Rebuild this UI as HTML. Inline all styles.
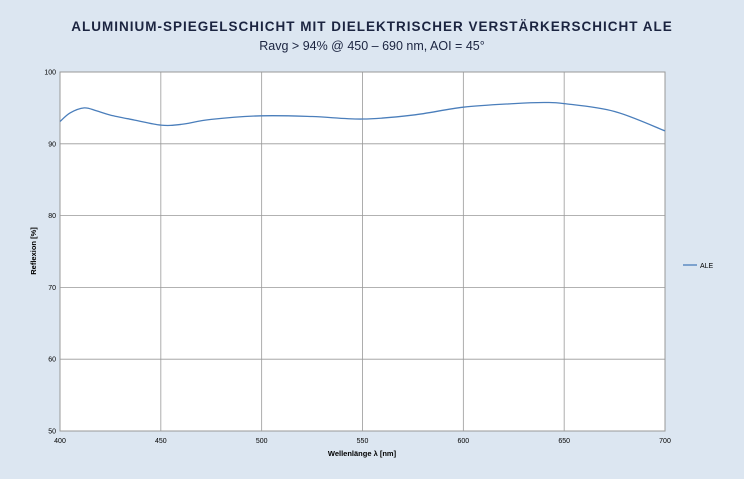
<!DOCTYPE html>
<html><head><meta charset="utf-8"><style>
body{margin:0;background:#dce6f1;width:744px;height:474px;overflow:hidden;font-family:"Liberation Sans",sans-serif}
</style></head><body>
<svg width="744" height="474" id="c">
<rect width="744" height="474" fill="#dce6f1"/>
<text x="372" y="31" text-anchor="middle" font-size="13.5" font-weight="bold" fill="#1b2440" letter-spacing="1">ALUMINIUM-SPIEGELSCHICHT MIT DIELEKTRISCHER VERSTÄRKERSCHICHT ALE</text>
<text x="372" y="50" text-anchor="middle" font-size="12.5" fill="#1b2440">Ravg &gt; 94% @ 450 – 690 nm, AOI = 45°</text>
<rect x="60" y="72" width="605" height="359" fill="#fff" stroke="#999"/>
<g id="grid"></g>
<path id="line" fill="none" stroke="#4a7ebb" stroke-width="1.3"/>
<line x1="683" y1="265" x2="697" y2="265" stroke="#4a7ebb" stroke-width="1.3"/>
<text x="700" y="268" font-size="7" fill="#000">ALE</text>
<text x="362" y="456" text-anchor="middle" font-size="7.5" font-weight="bold">Wellenlänge λ [nm]</text>
<text transform="translate(36,251) rotate(-90)" text-anchor="middle" font-size="7.5" font-weight="bold">Reflexion [%]</text>
</svg>
<script>
const xTicks=[400,450,500,550,600,650,700];
const yTicks=[50,60,70,80,90,100];
const wavelengths=[400,405,412,418,425,437,450,460,475,500,525,550,575,600,625,640,650,675,700];
const reflection=[93.1,94.3,95.0,94.6,94.0,93.3,92.6,92.7,93.4,93.9,93.8,93.45,94.0,95.1,95.6,95.75,95.6,94.5,91.8];
const X0=60,X1=665,Y0=431,Y1=72;
const sx=v=>X0+(v-400)/300*(X1-X0);
const sy=v=>Y0-(v-50)/50*(Y0-Y1);
const ns="http://www.w3.org/2000/svg";
const g=document.getElementById('grid');
xTicks.forEach(t=>{
 const l=document.createElementNS(ns,'line');
 l.setAttribute('x1',sx(t));l.setAttribute('x2',sx(t));l.setAttribute('y1',Y1);l.setAttribute('y2',Y0);
 l.setAttribute('stroke','#999');l.setAttribute('stroke-width','0.8');
 
 
 g.appendChild(l);
 const tx=document.createElementNS(ns,'text');
 tx.setAttribute('x',sx(t));tx.setAttribute('y',Y0+12);tx.setAttribute('text-anchor','middle');tx.setAttribute('font-size','7');
 tx.textContent=t;
 
 
 g.appendChild(tx);
});
yTicks.forEach(t=>{
 const l=document.createElementNS(ns,'line');
 l.setAttribute('x1',X0);l.setAttribute('x2',X1);l.setAttribute('y1',sy(t));l.setAttribute('y2',sy(t));
 l.setAttribute('stroke','#999');l.setAttribute('stroke-width','0.8');
 
 
 g.appendChild(l);
 const tx=document.createElementNS(ns,'text');
 tx.setAttribute('x',X0-4);tx.setAttribute('y',sy(t)+2.5);tx.setAttribute('text-anchor','end');tx.setAttribute('font-size','7');
 tx.textContent=t;
 
 
 g.appendChild(tx);
});
const P=wavelengths.map((w,i)=>[sx(w),sy(reflection[i])]);
let d='M'+P[0][0]+','+P[0][1];
for(let i=0;i<P.length-1;i++){
 const p0=P[i-1]||P[i],p1=P[i],p2=P[i+1],p3=P[i+2]||p2;
 const c1=[p1[0]+(p2[0]-p0[0])/6,p1[1]+(p2[1]-p0[1])/6];
 const c2=[p2[0]-(p3[0]-p1[0])/6,p2[1]-(p3[1]-p1[1])/6];
 d+=` C${c1[0]},${c1[1]} ${c2[0]},${c2[1]} ${p2[0]},${p2[1]}`;
}
document.getElementById('line').setAttribute('d',d);
</script>
</body></html>
